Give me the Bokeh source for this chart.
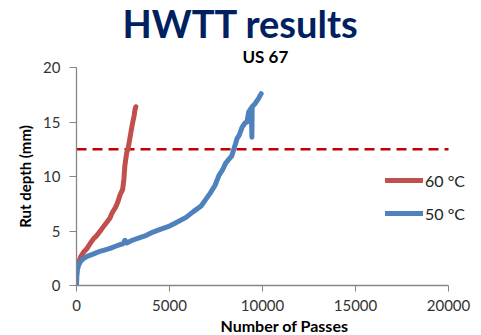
from bokeh.plotting import figure
from bokeh.models import Title, Legend, LegendItem, FixedTicker, Range1d
from bokeh.embed import file_html
from bokeh.resources import INLINE

# 60 °C series (passes, rut depth mm)
passes_60 = [0, 100, 213, 400, 567, 750, 922, 1100, 1277, 1450, 1631, 1800, 1900,
             2000, 2075, 2160, 2250, 2340, 2420, 2480, 2550, 2600, 2700, 2766, 2870,
             2950, 3015, 3100, 3140, 3190]
rut_60 = [1.4, 2.0, 2.6, 3.1, 3.4, 3.9, 4.3, 4.6, 5.0, 5.4, 5.8, 6.2, 6.6,
          6.9, 7.1, 7.4, 7.8, 8.3, 8.6, 8.8, 9.8, 11.0, 12.2, 12.5, 13.5,
          14.3, 14.9, 15.6, 16.1, 16.4]

# 50 °C series
passes_50 = [0, 20, 50, 100, 213, 400, 600, 922, 1200, 1500, 1808, 2100, 2340, 2517,
             2600, 2700, 3000, 3404, 3760, 4113, 4500, 5000, 5400, 5888, 6300, 6700,
             6950, 7200, 7450, 7660, 7850, 8015, 8200, 8350, 8457, 8550, 8635, 8750,
             8900, 9050, 9165, 9255, 9400, 9430, 9445, 9610, 9800, 9930]
rut_50 = [0.0, 0.9, 1.4, 1.8, 2.2, 2.5, 2.7, 2.9, 3.1, 3.25, 3.4, 3.6, 3.75, 3.85,
          4.15, 3.9, 4.15, 4.4, 4.6, 4.9, 5.15, 5.45, 5.8, 6.25, 6.8, 7.3,
          7.9, 8.5, 9.2, 10.1, 10.6, 11.2, 11.6, 11.9, 12.5, 13.0, 13.5, 13.8,
          14.5, 14.9, 15.0, 15.9, 16.3, 13.6, 16.4, 16.7, 17.2, 17.6]

# threshold line
limit_x = [0, 20000]
limit_y = [12.5, 12.5]

x_ticks = [0, 5000, 10000, 15000, 20000]
y_ticks = [0, 5, 10, 15, 20]

FONT = "Lato"

# frame extends past 20000 so that the legend is not clipped; axis is bounded at 20000
p = figure(width=481, height=335, output_backend="svg", toolbar_location=None,
           x_range=Range1d(0, 21505), y_range=Range1d(0, 20),
           min_border_left=76, min_border_right=5, min_border_top=67,
           min_border_bottom=50)
p.title = None
p.outline_line_color = None
p.xgrid.visible = False
p.ygrid.visible = False
p.background_fill_color = "white"
p.border_fill_color = "white"

t1 = Title(text="US 67", text_font=FONT, text_font_size="17px", text_font_style="bold",
           text_color="black", align="left", offset=166, standoff=2)
t2 = Title(text="HWTT results", text_font=FONT, text_font_size="38px",
           text_font_style="bold", text_color="#002060", align="left", offset=46,
           standoff=-7)
p.add_layout(t1, "above")
p.add_layout(t2, "above")

xl = Title(text="Number of Passes", text_font=FONT, text_font_size="16px",
           text_font_style="bold", text_color="black", align="left", offset=144,
           standoff=0)
p.add_layout(xl, "below")

for ax in (p.xaxis[0], p.yaxis[0]):
    ax.axis_line_color = "#868686"
    ax.axis_line_width = 1.3
    ax.major_tick_line_color = "#868686"
    ax.major_tick_in = 0
    ax.minor_tick_line_color = None
    ax.major_label_text_font = FONT
    ax.major_label_text_font_size = "15px"
    ax.major_label_text_color = "#333333"

p.xaxis[0].ticker = FixedTicker(ticks=x_ticks)
p.xaxis[0].bounds = (0, 20000)
p.yaxis[0].ticker = FixedTicker(ticks=y_ticks)
p.xaxis[0].major_tick_out = 6
p.yaxis[0].major_tick_out = 7
p.xaxis[0].major_label_standoff = 8
p.yaxis[0].major_label_standoff = 9

p.yaxis[0].axis_label = "Rut depth (mm)"
p.yaxis[0].axis_label_text_font = FONT
p.yaxis[0].axis_label_text_font_size = "15px"
p.yaxis[0].axis_label_text_font_style = "bold"
p.yaxis[0].axis_label_text_color = "black"
p.yaxis[0].axis_label_standoff = 6

p.line(limit_x, limit_y, line_color="#C00000", line_width=2.5, line_dash="10 6")
r60 = p.line(passes_60, rut_60, line_color="#C0504D", line_width=5,
             line_join="round", line_cap="round")
r50 = p.line(passes_50, rut_50, line_color="#4F81BD", line_width=5,
             line_join="round", line_cap="round")

legend = Legend(items=[LegendItem(label="60 °C", renderers=[r60]),
                       LegendItem(label="50 °C", renderers=[r50])],
                location=(309, 62), orientation="vertical",
                label_text_font=FONT, label_text_font_size="16px",
                label_text_color="#222222",
                glyph_width=38, glyph_height=20, label_height=20, label_standoff=2,
                spacing=13, padding=0, margin=0,
                border_line_color=None, background_fill_alpha=0)
p.add_layout(legend, "center")

open("out.html", "w").write(file_html(p, INLINE))
